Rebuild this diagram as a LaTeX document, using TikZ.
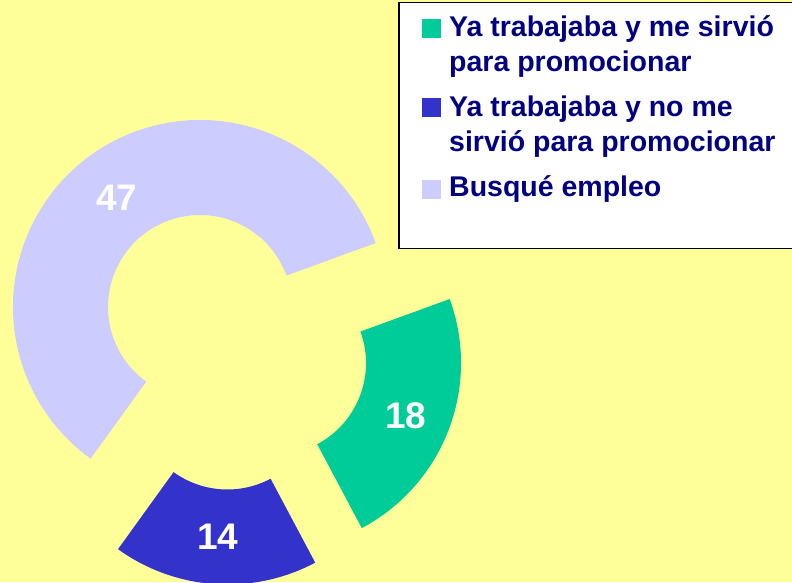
\documentclass[tikz,border=0pt]{standalone}
\usepackage{fontspec}
\setmainfont{Liberation Sans}
\usepackage{tikz}
\usetikzlibrary{calc}
\definecolor{bgyellow}{HTML}{FFFF99}
\definecolor{segaqua}{HTML}{00CC99}
\definecolor{segblue}{HTML}{3333CC}
\definecolor{seglilac}{HTML}{CCCCFF}
\definecolor{txtnavy}{HTML}{000080}
\tikzset{
  numlabel/.style={white, font=\bfseries\fontsize{37}{40}\selectfont},
  legtext/.style={txtnavy, anchor=base west, inner sep=0pt, font=\bfseries\fontsize{28.5}{33}\selectfont},
  legkey/.style={inner sep=0pt, minimum size=19pt}
}
\begin{document}
\begin{tikzpicture}[x=1pt,y=1pt]
\useasboundingbox (0,0) rectangle (792,582);
\fill[bgyellow] (0,0) rectangle (792,582);
%
\coordinate (lilac) at (200,275);
\coordinate (aqua) at (274,219);
\coordinate (blue) at (227.4,184.5);
\fill[seglilac] ($(lilac)+(20:187)$) arc[start angle=20,end angle=234.2,radius=187]
  -- ($(lilac)+(234.2:92)$) arc[start angle=234.2,end angle=20,radius=92] -- cycle;
\fill[segblue] ($(blue)+(234.2:187)$) arc[start angle=234.2,end angle=298,radius=187]
  -- ($(blue)+(298:92)$) arc[start angle=298,end angle=234.2,radius=92] -- cycle;
\fill[segaqua] ($(aqua)+(-62:187)$) arc[start angle=-62,end angle=20,radius=187]
  -- ($(aqua)+(20:92)$) arc[start angle=20,end angle=-62,radius=92] -- cycle;
%
\node[numlabel] (n47) at (117,384) {47};
\node[numlabel] (n18) at (406,166) {18};
\node[numlabel] (n14) at (218,45) {14};
%
\draw[line width=1.5pt, fill=white] (399,333.5) rectangle (796,579.5);
\node[legkey, fill=segaqua] (k1) at (431.5,553.5) {};
\node[legkey, fill=segblue] (k2) at (431.5,474) {};
\node[legkey, fill=seglilac] (k3) at (431.5,392.5) {};
\node[legtext] (t1a) at (449,545) {Ya trabajaba y me sirvió};
\node[legtext] (t1b) at (449,510) {para promocionar};
\node[legtext] (t2a) at (449,465) {Ya trabajaba y no me};
\node[legtext] (t2b) at (449,430) {sirvió para promocionar};
\node[legtext] (t3) at (449,385) {Busqué empleo};
\end{tikzpicture}
\end{document}
